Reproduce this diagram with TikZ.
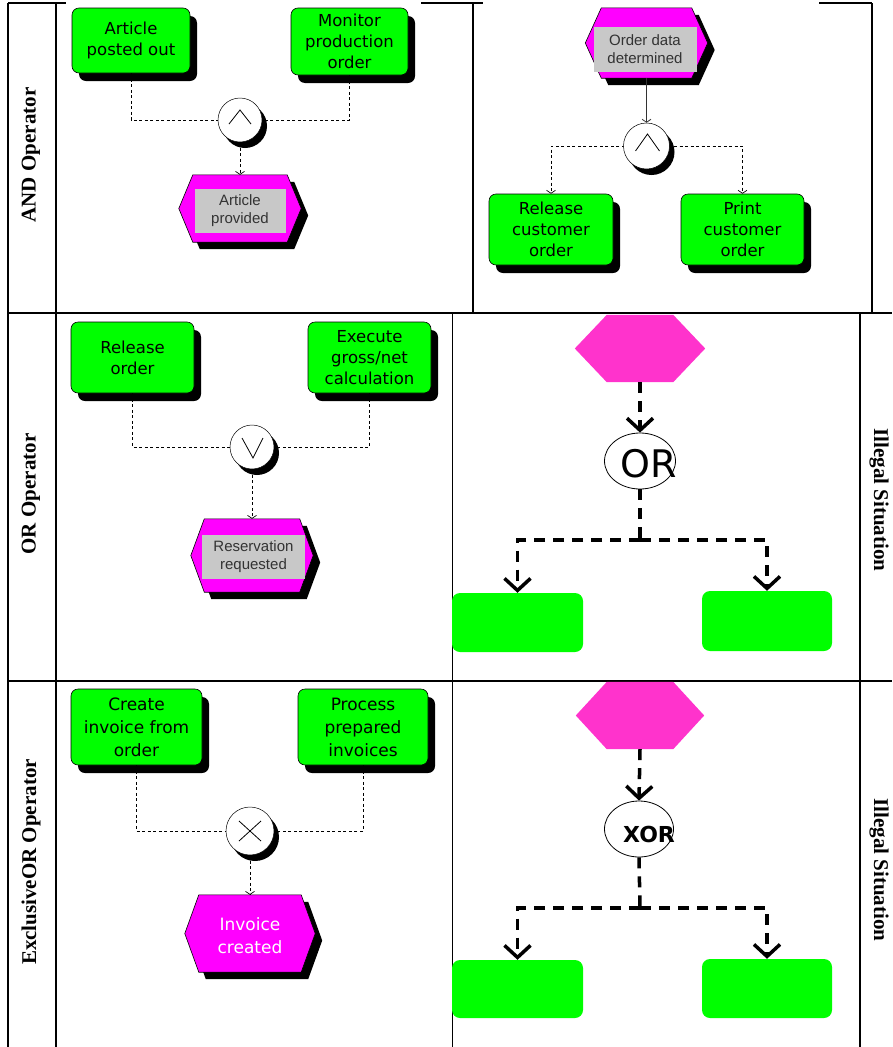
\documentclass[tikz,border=0pt]{standalone}
\usepackage{fontspec}
\setmainfont{Liberation Serif}
\newfontfamily\arisfont{DejaVu Sans}
\newfontfamily\lblfont{Liberation Sans}
\usetikzlibrary{arrows.meta,shadows,calc,shapes.geometric}
\definecolor{fgreen}{HTML}{00FF00}
\definecolor{emag}{HTML}{FF00FF}
\definecolor{epink}{HTML}{FF33CC}
\definecolor{lgray}{HTML}{C8C8C8}
\definecolor{tgray}{HTML}{333333}
\newcommand\evhex[3]{\path[#3] (#1.west) -- ($(#1.north west)+(#2,0)$) -- ($(#1.north east)+(-#2,0)$) -- (#1.east) -- ($(#1.south east)+(-#2,0)$) -- ($(#1.south west)+(#2,0)$) -- cycle;}
\begin{document}
\begin{tikzpicture}[x=1pt,y=-1pt,
  func/.style={draw=black,line width=0.6pt,fill=fgreen,rounded corners=7pt,inner sep=2pt,align=center,
    font=\arisfont\fontsize{16.5}{21}\selectfont,
    drop shadow={shadow xshift=7pt,shadow yshift=-8pt,opacity=1,fill=black}},
  evbox/.style={inner sep=0pt,draw=none},
  evfill/.style={fill=emag,draw=black,line width=0.6pt,
    drop shadow={shadow xshift=7pt,shadow yshift=-7pt,opacity=1,fill=black}},
  evlabel/.style={fill=lgray,inner sep=0pt,align=center,text=tgray,font=\lblfont\fontsize{15}{18}\selectfont},
  conn/.style={circle,draw=black,line width=0.5pt,fill=white,minimum size=44pt,inner sep=0pt,
    drop shadow={shadow xshift=5pt,shadow yshift=-6pt,opacity=1,fill=black}},
  sym/.style={line width=0.8pt,black},
  flow/.style={line width=0.7pt,dash pattern=on 3pt off 2.5pt,-{Straight Barb[length=3pt,width=9pt]}},
  tline/.style={line width=1.2pt,black},
  rowlbl/.style={rotate=90,font=\bfseries\fontsize{21}{24}\selectfont},
  illlbl/.style={rotate=-90,font=\bfseries\fontsize{21}{24}\selectfont},
  bigev/.style={fill=epink,draw=none},
  bigfn/.style={fill=fgreen,rounded corners=8pt,inner sep=0pt},
  bigop/.style={ellipse,draw=black,line width=0.8pt,fill=white,inner sep=0pt},
  bigflow/.style={line width=3.5pt,dash pattern=on 11pt off 8pt},
  bigarrow/.style={bigflow,-{Straight Barb[length=12pt,width=26pt]}}
]
\useasboundingbox (0,0) rectangle (892,1047);
% table lines
\draw[tline] (8,3) -- (66,3);
\draw[tline] (421,3) -- (483,3);
\draw[tline] (819,3) -- (872,3);
\draw[tline] (8,3) -- (8,1047);
\draw[tline] (56,3) -- (56,1047);
\draw[tline] (473,3) -- (473,313);
\draw[tline] (872,3) -- (872,313);
\draw[tline] (8,313) -- (892,313);
\draw[tline] (8,681) -- (892,681);
\draw[tline] (452.5,313) -- (452.5,1047);
\draw[tline] (860,313) -- (860,1047);
% row labels
\node[rowlbl] (l1) at (31,155) {AND Operator};
\node[rowlbl] (l2) at (31,494) {OR Operator};
\node[rowlbl] (l3) at (31,862) {ExclusiveOR Operator};
\node[illlbl] (l4) at (879,500) {Illegal Situation};
\node[illlbl] (l5) at (879,870) {Illegal Situation};
% ---- AND left
\node[func,minimum width=118pt,minimum height=65pt] (a1) at (131,40.5) {Article\\posted out};
\node[func,minimum width=117pt,minimum height=67pt] (a2) at (349.5,41.5) {Monitor\\production\\order};
\node[evbox,minimum width=122pt,minimum height=67pt] (e1) at (240,208.5) {};
\evhex{e1}{14}{evfill}
\node[evlabel,minimum width=91pt,minimum height=44pt] (e1t) at (240,211) {Article\\provided};
\draw[flow] (a1.south) |- (240,120);
\draw[flow] (a2.south) |- (240,120);
\node[conn] (and1) at (240,120) {};
\draw[sym] ($(and1.center)+(-11,4)$) -- ($(and1.center)+(0,-10)$) -- ($(and1.center)+(11,4)$);
\draw[flow] (and1.south) -- (e1.north);
% ---- AND right
\node[evbox,minimum width=122pt,minimum height=70pt] (e2) at (646.5,43) {};
\evhex{e2}{16}{evfill}
\node[evlabel,minimum width=103pt,minimum height=45pt] (e2t) at (645,49.5) {Order data\\determined};
\node[func,minimum width=124pt,minimum height=71pt] (b1) at (551,229.5) {Release\\customer\\order};
\node[func,minimum width=123pt,minimum height=71pt] (b2) at (742.5,229.5) {Print\\customer\\order};
\draw[flow] (646.5,146) -| (b1.north);
\draw[flow] (646.5,146) -| (b2.north);
\node[conn,minimum size=46pt] (and2) at (646.5,146) {};
\draw[sym] ($(and2.center)+(-11,5)$) -- ($(and2.center)+(1,-12)$) -- ($(and2.center)+(13,5)$);
\draw[line width=0.8pt,black!80,-{Straight Barb[length=3pt,width=9pt]}] (e2.south) -- (and2.north);
% ---- OR left
\node[func,minimum width=123pt,minimum height=71pt] (c1) at (132.5,357.5) {Release\\order};
\node[func,minimum width=123pt,minimum height=71pt] (c2) at (369.5,357.5) {Execute\\gross/net\\calculation};
\node[evbox,minimum width=122pt,minimum height=73pt] (e3) at (252,555.5) {};
\evhex{e3}{13.5}{evfill}
\node[evlabel,minimum width=103pt,minimum height=44pt] (e3t) at (253.5,557) {Reservation\\requested};
\draw[flow] (c1.south) |- (252,447);
\draw[flow] (c2.south) |- (252,447);
\node[conn] (or1) at (252,447) {};
\draw[sym] ($(or1.center)+(-10,-9)$) -- ($(or1.center)+(1,11)$) -- ($(or1.center)+(11,-9)$);
\draw[flow] (or1.south) -- (e3.north);
% ---- OR right (illegal)
\node[evbox,minimum width=130pt,minimum height=67pt] (h1) at (640,348.5) {};
\evhex{h1}{32}{bigev}
\node[bigop,minimum width=71pt,minimum height=56pt] (o1) at (640,461) {};
\node[font=\arisfont\fontsize{38}{40}\selectfont,inner sep=0pt] (o1t) at (649,464) {OR};
\node[bigfn,minimum width=131pt,minimum height=59pt] (g1) at (517.5,622.5) {};
\node[bigfn,minimum width=130pt,minimum height=60pt] (g2) at (767,621) {};
\coordinate (j1) at (640,540);
\draw[bigarrow] (h1.south) -- (o1.north);
\draw[bigflow] (o1.south) -- (j1);
\draw[bigarrow] (j1) -| (g1.north);
\draw[bigarrow] (j1) -| (g2.north);
% ---- XOR left
\node[func,font=\arisfont\fontsize{17}{23}\selectfont,minimum width=131pt,minimum height=76pt] (d1) at (136.5,727) {Create\\invoice from\\order};
\node[func,font=\arisfont\fontsize{17}{23}\selectfont,minimum width=130pt,minimum height=76pt] (d2) at (363,727) {Process\\prepared\\invoices};
\node[evbox,minimum width=130pt,minimum height=77pt] (e4) at (250,933.5) {};
\evhex{e4}{14}{evfill}
\node[align=center,text=white,font=\arisfont\fontsize{17}{23}\selectfont] (e4t) at (250,936) {Invoice\\created};
\draw[flow] (d1.south) |- (250,831);
\draw[flow] (d2.south) |- (250,831);
\node[conn,minimum size=48pt] (xor1) at (250,831) {};
\draw[sym] ($(xor1.center)+(-11,-10)$) -- ($(xor1.center)+(11,10)$);
\draw[sym] ($(xor1.center)+(-11,10)$) -- ($(xor1.center)+(11,-10)$);
\draw[flow] (xor1.south) -- (e4.north);
% ---- XOR right (illegal)
\node[evbox,minimum width=128pt,minimum height=67pt] (h2) at (640,715.5) {};
\evhex{h2}{31}{bigev}
\node[bigop,minimum width=69pt,minimum height=56pt] (o2) at (639,829) {};
\node[font=\arisfont\bfseries\fontsize{22}{25}\selectfont,inner sep=0pt] (o2t) at (649,834) {XOR};
\node[bigfn,minimum width=131pt,minimum height=58pt] (g3) at (517.5,989) {};
\node[bigfn,minimum width=130pt,minimum height=59pt] (g4) at (767,988.5) {};
\coordinate (j2) at (640,908);
\draw[bigarrow] (h2.south) -- (o2.north);
\draw[bigflow] (o2.south) -- (j2);
\draw[bigarrow] (j2) -| (g3.north);
\draw[bigarrow] (j2) -| (g4.north);
\end{tikzpicture}
\end{document}
